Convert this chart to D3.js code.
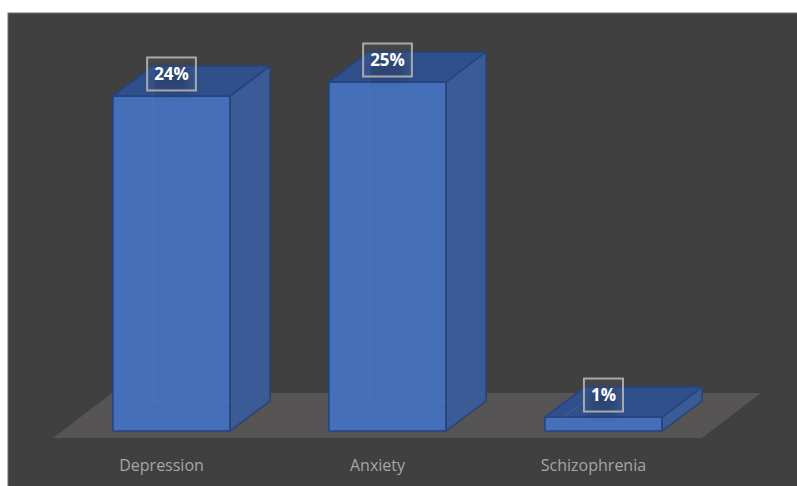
<!DOCTYPE html>
<html>
<head>
<meta charset="utf-8">
<script src="https://cdn.jsdelivr.net/npm/d3@7"></script>
<style>
  body { margin: 0; background: #ffffff; }
  svg { display: block; }
</style>
</head>
<body>
<div id="chart"></div>
<script>
let categories = ['Depression', 'Anxiety', 'Schizophrenia'];
let values = [24, 25, 1];
let valueLabels = ['24%', '25%', '1%'];

let width = 797, height = 486;
let depthX = 40, depthY = -30;

let xScale = d3.scaleBand().domain(categories).range([59, 716])
    .paddingInner(0.458).paddingOuter(0.25);
let yScale = d3.scaleLinear().domain([0, 25]).range([431, 82]);

let svg = d3.select('#chart').append('svg')
    .attr('width', width)
    .attr('height', height);

let defs = svg.append('defs');
let shadow = defs.append('filter').attr('id', 'lblShadow')
    .attr('x', '-50%').attr('y', '-50%').attr('width', '200%').attr('height', '200%');
shadow.append('feGaussianBlur').attr('in', 'SourceGraphic').attr('stdDeviation', 4);

// chart area background
svg.append('rect')
    .attr('x', 8)
    .attr('y', 13)
    .attr('width', width - 7)
    .attr('height', height - 12)
    .attr('fill', '#404040')
    .attr('stroke', '#6e6e6e')
    .attr('stroke-width', 1);

// floor
let floorY0 = yScale(0) + 7, floorY1 = floorY0 - 45;
let floorL = 53, floorR = 702;
svg.append('path')
    .attr('d', 'M' + floorL + ',' + floorY0 + 'L' + floorR + ',' + floorY0 +
        'L' + (floorR + 59) + ',' + floorY1 + 'L' + (floorL + 59) + ',' + floorY1 + 'Z')
    .attr('fill', '#565454');

let bars = svg.append('g').attr('id', 'bars')
    .selectAll('g')
    .data(categories)
    .enter()
    .append('g');

function pts(list) {
    return list.map(p => p.join(',')).join(' ');
}

bars.each(function(d, i) {
    let g = d3.select(this);
    let x0 = xScale(d), x1 = x0 + xScale.bandwidth();
    let yt = yScale(values[i]), yb = yScale(0);

    // front
    g.append('polygon')
        .attr('points', pts([[x0, yt], [x1, yt], [x1, yb], [x0, yb]]))
        .attr('fill', '#4570b9')
        .attr('stroke', '#26437c')
        .attr('stroke-width', 1.5);
    // side
    g.append('polygon')
        .attr('points', pts([[x1, yt], [x1 + depthX, yt + depthY], [x1 + depthX, yb + depthY], [x1, yb]]))
        .attr('fill', '#3a5b96')
        .attr('stroke', '#26437c')
        .attr('stroke-width', 1.5);
    // top
    g.append('polygon')
        .attr('points', pts([[x0, yt], [x0 + depthX, yt + depthY], [x1 + depthX, yt + depthY], [x1, yt]]))
        .attr('fill', '#30508c')
        .attr('stroke', '#26437c')
        .attr('stroke-width', 1.5);

    // hidden back edges seen through the bar
    if (yb + depthY > yt) {
        g.append('polyline')
            .attr('points', pts([[x0 + depthX, yt + depthY + 2], [x0 + depthX, yb + depthY], [x1, yb + depthY]]))
            .attr('fill', 'none')
            .attr('stroke', '#5b85cc')
            .attr('stroke-opacity', 0.25);
    }
    g.append('line')
        .attr('x1', x0).attr('y1', yb)
        .attr('x2', x0 + depthX).attr('y2', yb + depthY)
        .attr('stroke', '#5b85cc')
        .attr('stroke-opacity', 0.25);
});

// value labels
let labels = svg.append('g').attr('id', 'valueLabels')
    .selectAll('g')
    .data(categories)
    .enter()
    .append('g')
    .attr('transform', function(d, i) {
        let cx = xScale(d) + xScale.bandwidth() / 2;
        let cy = yScale(values[i]) - 22;
        return 'translate(' + cx + ',' + cy + ')';
    });

labels.append('text')
    .text((d, i) => valueLabels[i])
    .attr('text-anchor', 'middle')
    .attr('dy', '0.36em')
    .attr('fill', '#ffffff')
    .style('font-family', 'Open Sans, sans-serif')
    .style('font-weight', 'bold')
    .style('font-size', '17px')
    .each(function() {
        let bb = this.getBBox();
        let parent = d3.select(this.parentNode);
        let w = bb.width + 14, h = 33;
        parent.insert('rect', 'text')
            .attr('x', -w / 2 + 6)
            .attr('y', -h / 2 + 10)
            .attr('width', w - 12)
            .attr('height', h - 8)
            .attr('fill', '#1c3058')
            .attr('opacity', 0.6)
            .attr('filter', 'url(#lblShadow)');
        parent.insert('rect', 'text')
            .attr('x', -w / 2)
            .attr('y', -h / 2)
            .attr('width', w)
            .attr('height', h)
            .attr('fill', '#ffffff')
            .attr('fill-opacity', 0.04)
            .attr('stroke', '#a9a9a9')
            .attr('stroke-width', 2);
    });

// category labels
svg.append('g').attr('id', 'catLabels')
    .selectAll('text')
    .data(categories)
    .enter()
    .append('text')
    .text(d => d)
    .attr('x', d => xScale(d) + xScale.bandwidth() / 2 - 10)
    .attr('y', 471)
    .attr('text-anchor', 'middle')
    .attr('fill', '#a6a6a6')
    .style('font-family', 'Open Sans, sans-serif')
    .style('font-size', '16px');
</script>
</body>
</html>
